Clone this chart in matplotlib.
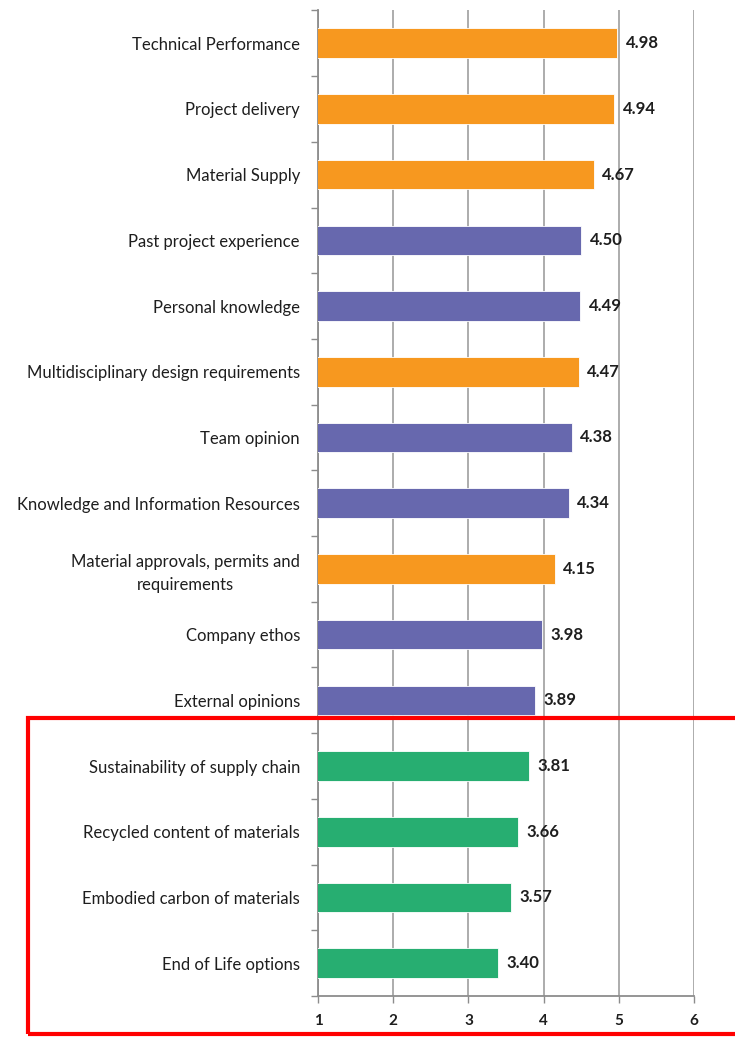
import matplotlib.pyplot as plt
import numpy as np
from matplotlib.patches import Rectangle

plt.rcParams["font.family"] = ["Lato", "DejaVu Sans"]

# factors, listed top to bottom
factors = [
    "Technical Performance",
    "Project delivery",
    "Material Supply",
    "Past project experience",
    "Personal knowledge",
    "Multidisciplinary design requirements",
    "Team opinion",
    "Knowledge and Information Resources",
    "Material approvals, permits and\nrequirements",
    "Company ethos",
    "External opinions",
    "Sustainability of supply chain",
    "Recycled content of materials",
    "Embodied carbon of materials",
    "End of Life options",
]
scores = [4.98, 4.94, 4.67, 4.50, 4.49, 4.47, 4.38, 4.34, 4.15,
          3.98, 3.89, 3.81, 3.66, 3.57, 3.40]
groups = ["project", "project", "project", "personal", "personal",
          "project", "personal", "personal", "project", "personal",
          "personal", "sustain", "sustain", "sustain", "sustain"]

group_color = {
    "project": "#F7981F",
    "personal": "#6768AE",
    "sustain": "#27AE71",
}
x_ticks = [1, 2, 3, 4, 5, 6]

fig = plt.figure(figsize=(7.35, 10.37), dpi=100)
ax = fig.add_axes([0.4327, 0.0395, 0.5115, 0.9505])

n = len(factors)
y = np.arange(n)[::-1]
colors = [group_color[g] for g in groups]
ax.barh(y, scores, height=0.45, color=colors, edgecolor="white",
        linewidth=0.6, zorder=3)

for yi, v in zip(y, scores):
    ax.text(v + 0.11, yi, f"{v:.2f}", va="center", ha="left",
            fontsize=12, fontweight="bold", color="#1e1e1e", zorder=4)

ax.set_xlim(1, 6)
ax.set_ylim(-0.5, n - 0.5)
ax.set_xticks(x_ticks)
ax.set_xticklabels([str(t) for t in x_ticks], fontsize=11,
                   fontweight="bold", color="#1e1e1e")
ax.tick_params(axis="x", length=5, width=1, color="#8c8c8c", pad=8)

# category labels at bar centres, tick marks between categories
ax.set_yticks(y)
ax.set_yticklabels(factors, fontsize=12, color="#1e1e1e",
                   multialignment="center", linespacing=1.5)
ax.tick_params(axis="y", which="major", length=0, pad=13)
ax.set_yticks(np.arange(n + 1) - 0.5, minor=True)
ax.tick_params(axis="y", which="minor", length=5, width=1,
               color="#8c8c8c")

ax.grid(axis="x", color="#a6a6a6", linewidth=1.3, zorder=0)
ax.set_axisbelow(True)
for side in ["top", "right"]:
    ax.spines[side].set_visible(False)
for side in ["left", "bottom"]:
    ax.spines[side].set_color("#8c8c8c")
    ax.spines[side].set_linewidth(1.3)

# highlight box around the sustainability factors
fig.patches.append(Rectangle((0.038, 0.0025), 1.0, 0.305,
                             transform=fig.transFigure, fill=False,
                             edgecolor="#FF0000", linewidth=3.0,
                             zorder=10))

fig.savefig("out.png", dpi=100)
